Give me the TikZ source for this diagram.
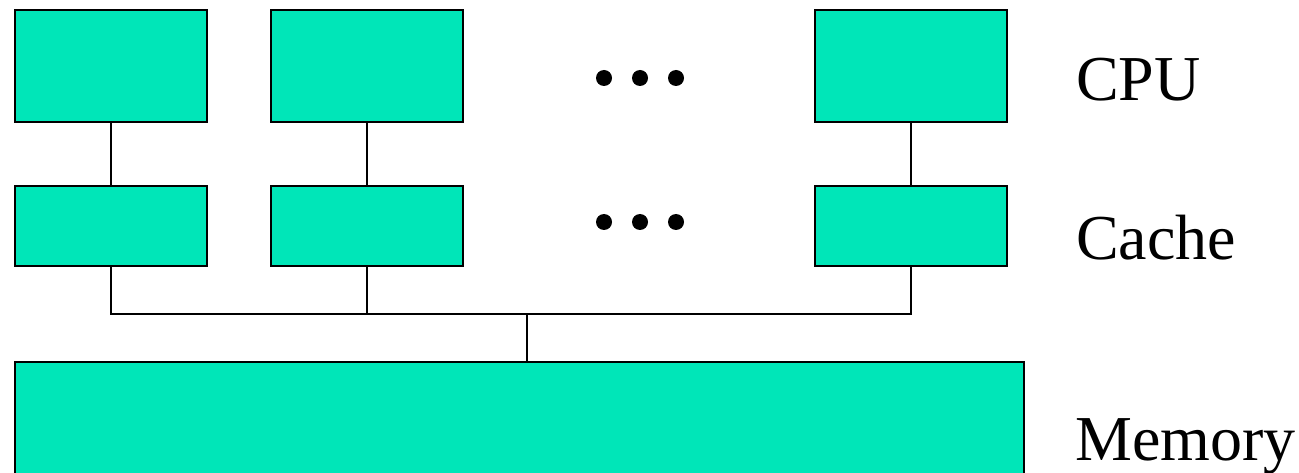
\documentclass[tikz,border=0pt]{standalone}
\usepackage{fontspec}
\setmainfont{Liberation Serif}
\definecolor{boxfill}{RGB}{0,230,184}
\begin{document}
\begin{tikzpicture}[x=1pt,y=-1pt,
  unit/.style={draw=black,line width=1.6pt,fill=boxfill,rectangle,inner sep=0pt,minimum width=192pt},
  cpubox/.style={unit,minimum height=112pt},
  cachebox/.style={unit,minimum height=80pt},
  wire/.style={line width=1.6pt},
  dotmark/.style={circle,fill=black,inner sep=0pt,minimum size=16pt},
  lbl/.style={anchor=base west,inner sep=0pt,font=\fontsize{64pt}{70pt}\selectfont}]
\useasboundingbox (0,0) rectangle (1299,473);
\clip (0,0) rectangle (1299,473);
% CPUs
\node[cpubox] (p1) at (111,66) {};
\node[cpubox] (p2) at (367,66) {};
\node[cpubox] (p3) at (911,66) {};
% Caches
\node[cachebox] (c1) at (111,226) {};
\node[cachebox] (c2) at (367,226) {};
\node[cachebox] (c3) at (911,226) {};
% Memory
\node[draw=black,line width=1.6pt,fill=boxfill,rectangle,inner sep=0pt,minimum width=1009pt,minimum height=130pt] (mem) at (519.5,427) {};
% dots
\node[dotmark] (d1) at (604,78) {};
\node[dotmark] (d2) at (640,78) {};
\node[dotmark] (d3) at (676,78) {};
\node[dotmark] (e1) at (604,222) {};
\node[dotmark] (e2) at (640,222) {};
\node[dotmark] (e3) at (676,222) {};
% wires
\coordinate (bus) at (527,314);
\draw[wire] (p1.south) -- (c1.north);
\draw[wire] (p2.south) -- (c2.north);
\draw[wire] (p3.south) -- (c3.north);
\draw[wire] (c1.south) |- (bus) -| (c3.south);
\draw[wire] (c2.south) -- (c2.south |- bus);
\draw[wire] (bus) -- (bus |- mem.north);
% labels
\node[lbl] (lcpu) at (1076,101) {CPU};
\node[lbl] (lcache) at (1076,260) {Cache};
\node[lbl] (lmem) at (1075,460) {Memory};
\end{tikzpicture}
\end{document}
